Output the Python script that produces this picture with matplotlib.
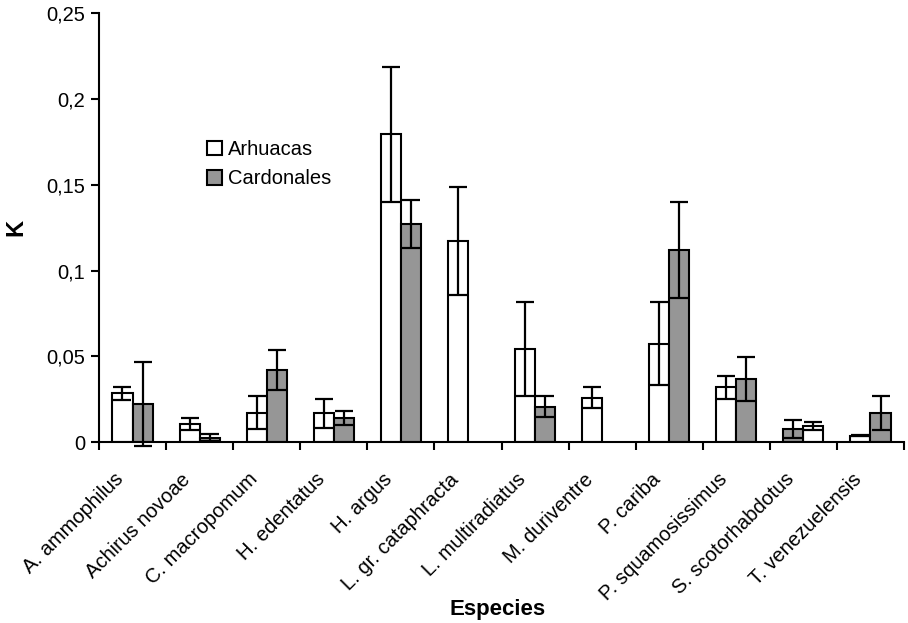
import numpy as np
import matplotlib
matplotlib.use("Agg")
import matplotlib.pyplot as plt
from matplotlib.ticker import FuncFormatter, FixedLocator
from matplotlib.transforms import ScaledTranslation, blended_transform_factory

plt.rcParams['font.family'] = ['Liberation Sans', 'DejaVu Sans']

species = ["A. ammophilus", "Achirus novoae", "C. macropomum", "H. edentatus",
           "H. argus", "L. gr. cataphracta", "L. multiradiatus", "M. duriventre",
           "P. cariba", "P. squamosissimus", "S. scotorhabdotus", "T. venezuelensis"]

arhuacas = [0.0285, 0.0107, 0.0172, 0.0169, 0.1795, 0.1173, 0.0542, 0.0260,
            0.0575, 0.0320, 0.0095, 0.0039]
arhuacas_err = [0.0036, 0.0035, 0.0095, 0.0083, 0.0392, 0.0314, 0.0274, 0.0061,
                0.0240, 0.0069, 0.0021, 0.0005]

cardonales = [0.0223, 0.0027, 0.0421, 0.0140, 0.1272, np.nan, 0.0208, np.nan,
              0.1120, 0.0367, 0.0078, 0.0169]
cardonales_err = [0.0245, 0.0020, 0.0115, 0.0042, 0.0140, np.nan, 0.0062, np.nan,
                  0.0278, 0.0129, 0.0052, 0.0099]

series_names = ["Arhuacas", "Cardonales"]

# groups whose two bars are drawn in reverse order
reversed_groups = {"S. scotorhabdotus"}

fig = plt.figure(figsize=(9.08, 6.23), dpi=100)
ax = fig.add_axes([99 / 908, 1 - 442.3 / 623, 805 / 908, (442.3 - 13.3) / 623])

x = np.arange(len(species))
bw = 0.3
left_off = np.array([bw / 2 if s in reversed_groups else -bw / 2 for s in species])
right_off = -left_off

bar_kw = dict(width=bw, edgecolor='black', linewidth=1.5, zorder=2)
err_kw = dict(fmt='none', ecolor='black', elinewidth=1.6, capsize=6.5, capthick=1.6,
              zorder=3, clip_on=False)

ax.bar(x + left_off, arhuacas, color='white', label=series_names[0], **bar_kw)
ax.bar(x + right_off, cardonales, color='#969696', label=series_names[1], **bar_kw)
for e in (ax.errorbar(x + left_off, arhuacas, yerr=arhuacas_err, **err_kw),
          ax.errorbar(x + right_off, cardonales, yerr=cardonales_err, **err_kw)):
    for art in list(e.lines[1]) + list(e.lines[2]):
        art.set_clip_on(False)

ax.set_xlim(-0.5, len(species) - 0.5)
ax.set_ylim(0, 0.25)
ax.set_yticks([0, 0.05, 0.1, 0.15, 0.2, 0.25])
ax.yaxis.set_major_formatter(FuncFormatter(lambda v, p: ('%g' % round(v, 3)).replace('.', ',')))

# category names: rotated, ending just below-left of each group centre
ax.set_xticks([])
ax.xaxis.set_minor_locator(FixedLocator(np.arange(len(species) + 1) - 0.5))
ax.tick_params(axis='x', which='minor', length=6, width=1.5, direction='out',
               labelbottom=False)
label_tr = blended_transform_factory(ax.transData, ax.transAxes) + \
    ScaledTranslation(-8 / 100, -38 / 100, fig.dpi_scale_trans)
for xi, name in zip(x, species):
    ax.text(xi, 0, name, transform=label_tr, rotation=45, ha='right', va='baseline',
            rotation_mode='anchor', fontsize=14.5, clip_on=False)

ax.tick_params(axis='y', which='major', length=6, width=1.5, direction='out',
               labelsize=14.5, pad=4)

for side in ('top', 'right'):
    ax.spines[side].set_visible(False)
for side in ('left', 'bottom'):
    ax.spines[side].set_linewidth(1.5)

fig.text(16 / 908, 1 - 227 / 623, 'K', fontsize=17, fontweight='bold',
         rotation=90, ha='center', va='center')
fig.text(498 / 908, 1 - 609 / 623, 'Especies', fontsize=16, fontweight='bold',
         ha='center', va='center')

ax.legend(loc='upper left', bbox_to_anchor=(193 / 908, 1 - 126 / 623),
          bbox_transform=fig.transFigure, frameon=False, fontsize=14.5,
          handlelength=0.75, handleheight=0.75, handletextpad=0.3,
          labelspacing=0.5, borderpad=0.2)

fig.savefig('out.png', dpi=100, facecolor='white')
